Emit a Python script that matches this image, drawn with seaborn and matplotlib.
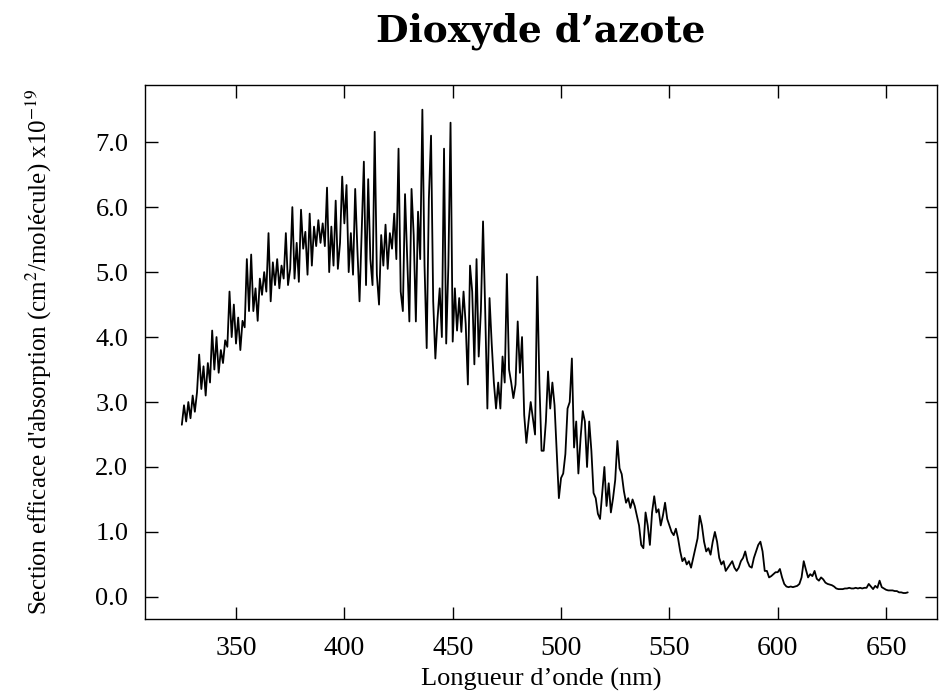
import numpy as np
import pandas as pd
import matplotlib
matplotlib.use("Agg")
import matplotlib.pyplot as plt
import seaborn as sns

# Wavelength grid (nm), 1 nm steps
wl_start, wl_end = 325, 660

# Absorption cross-section (x1e-19 cm^2/molecule), read band by band
band_325_374 = [2.65, 2.95, 2.7, 3.0, 2.75, 3.1, 2.85, 3.15, 3.73, 3.2,
                3.55, 3.1, 3.6, 3.3, 4.1, 3.5, 4.0, 3.45, 3.8, 3.6,
                3.95, 3.85, 4.7, 4.0, 4.5, 3.9, 4.3, 3.8, 4.25, 4.15,
                5.2, 4.4, 5.27, 4.4, 4.75, 4.25, 4.9, 4.65, 5.0, 4.7,
                5.6, 4.55, 5.15, 4.8, 5.2, 4.75, 5.1, 4.9, 5.6, 4.8]
band_375_424 = [5.05, 6.0, 4.9, 5.45, 4.85, 5.96, 5.36, 5.62, 4.96, 5.9,
                5.1, 5.7, 5.4, 5.8, 5.45, 5.75, 5.4, 6.3, 5.0, 5.7,
                5.1, 6.1, 5.05, 5.45, 6.47, 5.75, 6.34, 5.0, 5.6, 4.96,
                6.28, 5.36, 4.55, 5.6, 6.7, 4.8, 6.43, 5.2, 4.8, 7.16,
                4.96, 4.5, 5.57, 5.1, 5.73, 5.05, 5.6, 5.36, 5.9, 5.2]
band_425_474 = [6.9, 4.7, 4.4, 6.2, 5.2, 4.24, 6.28, 5.57, 4.24, 5.93,
                5.2, 7.5, 5.1, 3.83, 6.13, 7.1, 4.55, 3.67, 4.28, 4.75,
                4.0, 6.9, 3.9, 5.1, 7.3, 3.93, 4.75, 4.1, 4.6, 4.08,
                4.7, 4.2, 3.27, 5.1, 4.7, 3.58, 5.2, 3.7, 4.4, 5.78,
                4.4, 2.9, 4.6, 3.9, 3.3, 2.9, 3.3, 2.9, 3.7, 3.3]
band_475_524 = [4.97, 3.5, 3.3, 3.06, 3.27, 4.24, 3.45, 4.0, 2.8, 2.37,
                2.7, 3.0, 2.75, 2.5, 4.93, 3.3, 2.25, 2.25, 2.7, 3.47,
                2.9, 3.3, 2.95, 2.24, 1.52, 1.83, 1.9, 2.2, 2.9, 3.0,
                3.67, 2.3, 2.7, 1.9, 2.44, 2.86, 2.7, 2.0, 2.7, 2.25,
                1.6, 1.52, 1.28, 1.2, 1.6, 2.0, 1.4, 1.75, 1.3, 1.52]
band_525_574 = [1.8, 2.4, 1.98, 1.89, 1.63, 1.45, 1.52, 1.37, 1.5, 1.4,
                1.25, 1.1, 0.8, 0.75, 1.3, 1.1, 0.8, 1.3, 1.55, 1.3,
                1.35, 1.1, 1.25, 1.45, 1.2, 1.1, 1.0, 0.95, 1.05, 0.9,
                0.7, 0.55, 0.6, 0.5, 0.55, 0.45, 0.6, 0.75, 0.9, 1.25,
                1.1, 0.85, 0.7, 0.75, 0.65, 0.85, 1.0, 0.85, 0.6, 0.5]
band_575_624 = [0.55, 0.4, 0.45, 0.5, 0.55, 0.45, 0.4, 0.45, 0.55, 0.6,
                0.7, 0.55, 0.47, 0.45, 0.6, 0.7, 0.8, 0.85, 0.7, 0.4,
                0.4, 0.3, 0.32, 0.35, 0.38, 0.38, 0.43, 0.3, 0.2, 0.16,
                0.15, 0.16, 0.15, 0.16, 0.17, 0.2, 0.3, 0.55, 0.42, 0.3,
                0.35, 0.32, 0.4, 0.28, 0.25, 0.3, 0.27, 0.22, 0.2, 0.19]
band_625_660 = [0.18, 0.16, 0.13, 0.12, 0.12, 0.12, 0.13, 0.13, 0.14, 0.13,
                0.13, 0.14, 0.13, 0.14, 0.13, 0.14, 0.14, 0.2, 0.16, 0.12,
                0.17, 0.14, 0.25, 0.15, 0.13, 0.11, 0.1, 0.1, 0.1, 0.09,
                0.09, 0.07, 0.07, 0.06, 0.06, 0.07]

x_ticks = [350, 400, 450, 500, 550, 600, 650]
y_ticks = [0.0, 1.0, 2.0, 3.0, 4.0, 5.0, 6.0, 7.0]

cross = (band_325_374 + band_375_424 + band_425_474 + band_475_524
         + band_525_574 + band_575_624 + band_625_660)
wavelength = list(range(wl_start, wl_end + 1))
df = pd.DataFrame({"wl": wavelength, "sigma": cross})

sns.set_theme(style="ticks")
plt.rcParams["font.family"] = ["Liberation Serif", "DejaVu Serif"]
plt.rcParams["mathtext.fontset"] = "stix"
for key in ["text.color", "axes.labelcolor", "xtick.color", "ytick.color",
            "axes.edgecolor"]:
    plt.rcParams[key] = "black"

fig = plt.figure(figsize=(9.46, 6.94), dpi=100)
ax = fig.add_axes([145 / 946, 1 - 619 / 694, (937 - 145) / 946, (619 - 85) / 694])

sns.lineplot(data=df, x="wl", y="sigma", color="black", linewidth=1.3,
             ax=ax, sort=False, estimator=None)

ax.set_xlim(308, 673.5)
ax.set_ylim(-0.34, 7.88)
ax.set_xticks(x_ticks)
ax.set_yticks(y_ticks)
ax.set_yticklabels([f"{v:.1f}" for v in y_ticks])
ax.tick_params(direction="in", top=True, right=True, length=9, width=1.0,
               colors="black", labelcolor="black")
ax.tick_params(axis="x", labelsize=20, pad=12)
ax.tick_params(axis="y", labelsize=19, pad=12)
for s in ax.spines.values():
    s.set_linewidth(1.0)
    s.set_color("black")

ax.set_xlabel("Longueur d\u2019onde (nm)", fontsize=19, labelpad=5, color="black")
ax.set_ylabel(r"Section efficace d'absorption (cm$^{2}$/molécule) x10$^{-19}$",
              fontsize=18, labelpad=30, color="black")

fig.text(541 / 946, 1 - 31 / 694, "Dioxyde d\u2019azote", ha="center", va="center",
         fontsize=27, fontweight="bold", family=["DejaVu Serif"], color="black")

fig.savefig("out.png", dpi=100)
